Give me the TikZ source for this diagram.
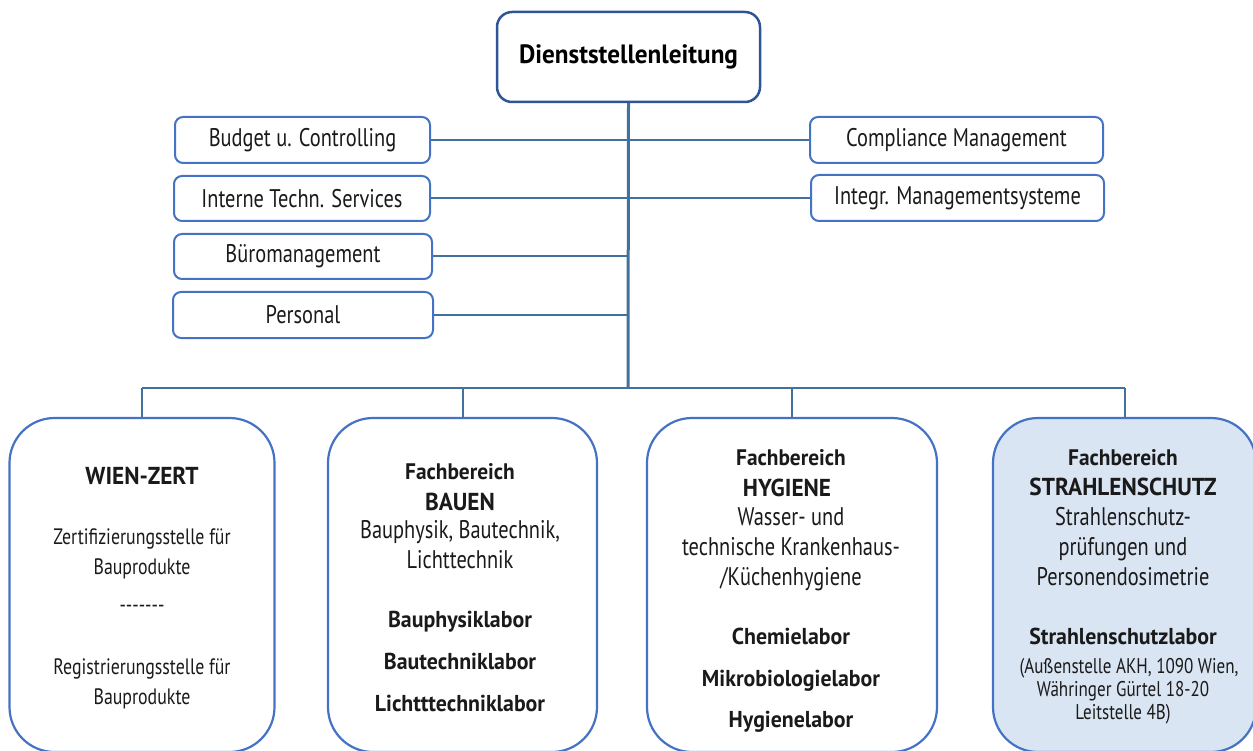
\documentclass[tikz,border=0pt]{standalone}
\usepackage{fontspec}
\setmainfont{PT Sans}[FakeStretch=0.8, BoldFeatures={FakeStretch=0.95}]
\definecolor{topblue}{HTML}{2F5597}
\definecolor{boxblue}{HTML}{4472C4}
\definecolor{lineblue}{HTML}{41719C}
\definecolor{fillblue}{HTML}{DAE5F3}
\definecolor{txt}{HTML}{1A1A1A}
\begin{document}
\begin{tikzpicture}[x=1pt,y=-1pt,
  topbox/.style={draw=topblue, line width=2.5pt, rounded corners=15pt, fill=white, inner sep=0pt},
  smallbox/.style={draw=boxblue, line width=2pt, rounded corners=8pt, fill=white, inner sep=0pt, text=txt, font=\fontsize{25.5}{28}\selectfont},
  bigbox/.style={draw=boxblue, line width=2.2pt, rounded corners=45pt, inner sep=0pt},
  conn/.style={draw=lineblue, line width=2pt},
  trunk/.style={draw=lineblue, line width=3pt},
  wreg/.style={text=txt, inner sep=0pt, anchor=base, font=\fontsize{22.3}{25}\selectfont},
  reg/.style={text=txt, inner sep=0pt, anchor=base, font=\fontsize{25.5}{28}\selectfont},
  hd/.style={text=txt, inner sep=0pt, anchor=base, font=\fontsize{22.5}{25}\selectfont\bfseries},
  hdcaps/.style={text=txt, inner sep=0pt, anchor=base, font=\fontsize{24.5}{27}\selectfont\bfseries},
  lab/.style={text=txt, inner sep=0pt, anchor=base, font=\fontsize{23}{25}\selectfont\bfseries},
  sm/.style={text=txt, inner sep=0pt, anchor=base, font=\fontsize{21.3}{24}\selectfont}
]
\useasboundingbox (0,0) rectangle (1253,751);

% top box
\node[topbox, minimum width=263pt, minimum height=90pt, text=black, font=\fontsize{26.5}{30}\selectfont\bfseries] (top) at (628.5,57) {Dienststellenleitung};

% staff boxes left
\node[smallbox, minimum width=255pt, minimum height=46pt] (budget) at (302.5,140) {Budget u. Controlling};
\node[smallbox, minimum width=256pt, minimum height=45pt] (its) at (302,198.5) {Interne Techn. Services};
\node[smallbox, minimum width=258pt, minimum height=45pt] (buero) at (303,256.5) {Büromanagement};
\node[smallbox, minimum width=260pt, minimum height=46pt] (pers) at (303,315) {Personal};
% staff boxes right
\node[smallbox, minimum width=293pt, minimum height=46pt] (comp) at (956.5,140) {Compliance Management};
\node[smallbox, minimum width=293pt, minimum height=46pt] (ims) at (957.5,198) {Integr. Managementsysteme};

% bottom boxes
\node[bigbox, fill=white, minimum width=265pt, minimum height=334pt] (wz) at (142,585) {};
\node[bigbox, fill=white, minimum width=269pt, minimum height=334pt] (bau) at (462.5,585) {};
\node[bigbox, fill=white, minimum width=290pt, minimum height=334pt] (hyg) at (792,585) {};
\node[bigbox, fill=fillblue, minimum width=263pt, minimum height=334pt] (str) at (1124.5,585) {};

% connectors
\coordinate (bus) at (628,388);
\draw[trunk] (top.south) -- (bus);
\foreach \n in {budget,its,buero,pers,comp,ims}{
  \draw[conn] (\n) -- (\n -| top.south);
}
\draw[conn] (wz.north |- bus) -- (str.north |- bus);
\foreach \n in {wz,bau,hyg,str}{
  \draw[conn] (\n.north |- bus) -- (\n.north);
}

% WIEN-ZERT text
\node[hdcaps] (wz1) at (142,484) {WIEN-ZERT};
\node[wreg] (wz2) at (142,544) {Zertifizierungsstelle für};
\node[wreg] (wz3) at (142,574) {Bauprodukte};
\node[wreg] (wz4) at (142,612) {{-}{-}{-}{-}{-}{-}{-}};
\node[wreg] (wz5) at (142,674) {Registrierungsstelle für};
\node[wreg] (wz6) at (142,704) {Bauprodukte};

% BAUEN text
\node[hd] (b1) at (460,479) {Fachbereich};
\node[hdcaps] (b2) at (460,510) {BAUEN};
\node[reg] (b3) at (460,538) {Bauphysik, Bautechnik,};
\node[reg] (b4) at (460,568) {Lichttechnik};
\node[lab] (b5) at (460,627) {Bauphysiklabor};
\node[lab] (b6) at (460,669) {Bautechniklabor};
\node[lab] (b7) at (460,711) {Lichtttechniklabor};

% HYGIENE text
\node[hd] (h1) at (791,465) {Fachbereich};
\node[hdcaps] (h2) at (787,496) {HYGIENE};
\node[reg] (h3) at (791,525) {Wasser- und};
\node[reg] (h4) at (791,555) {technische Krankenhaus-};
\node[reg] (h5) at (791,585) {/Küchenhygiene};
\node[lab] (h6) at (791,644) {Chemielabor};
\node[lab] (h7) at (791,686) {Mikrobiologielabor};
\node[lab] (h8) at (791,727) {Hygienelabor};

% STRAHLENSCHUTZ text
\node[hd] (s1) at (1123,465) {Fachbereich};
\node[hdcaps] (s2) at (1123,495) {STRAHLENSCHUTZ};
\node[reg] (s3) at (1123,525) {Strahlenschutz-};
\node[reg] (s4) at (1123,555) {prüfungen und};
\node[reg] (s5) at (1123,585) {Personendosimetrie};
\node[lab] (s6) at (1123,644) {Strahlenschutzlabor};
\node[sm] (s7) at (1129,673) {(Außenstelle AKH, 1090 Wien,};
\node[sm] (s8) at (1123,696) {Währinger Gürtel 18-20};
\node[sm] (s9) at (1123,719) {Leitstelle 4B)};
\end{tikzpicture}
\end{document}
